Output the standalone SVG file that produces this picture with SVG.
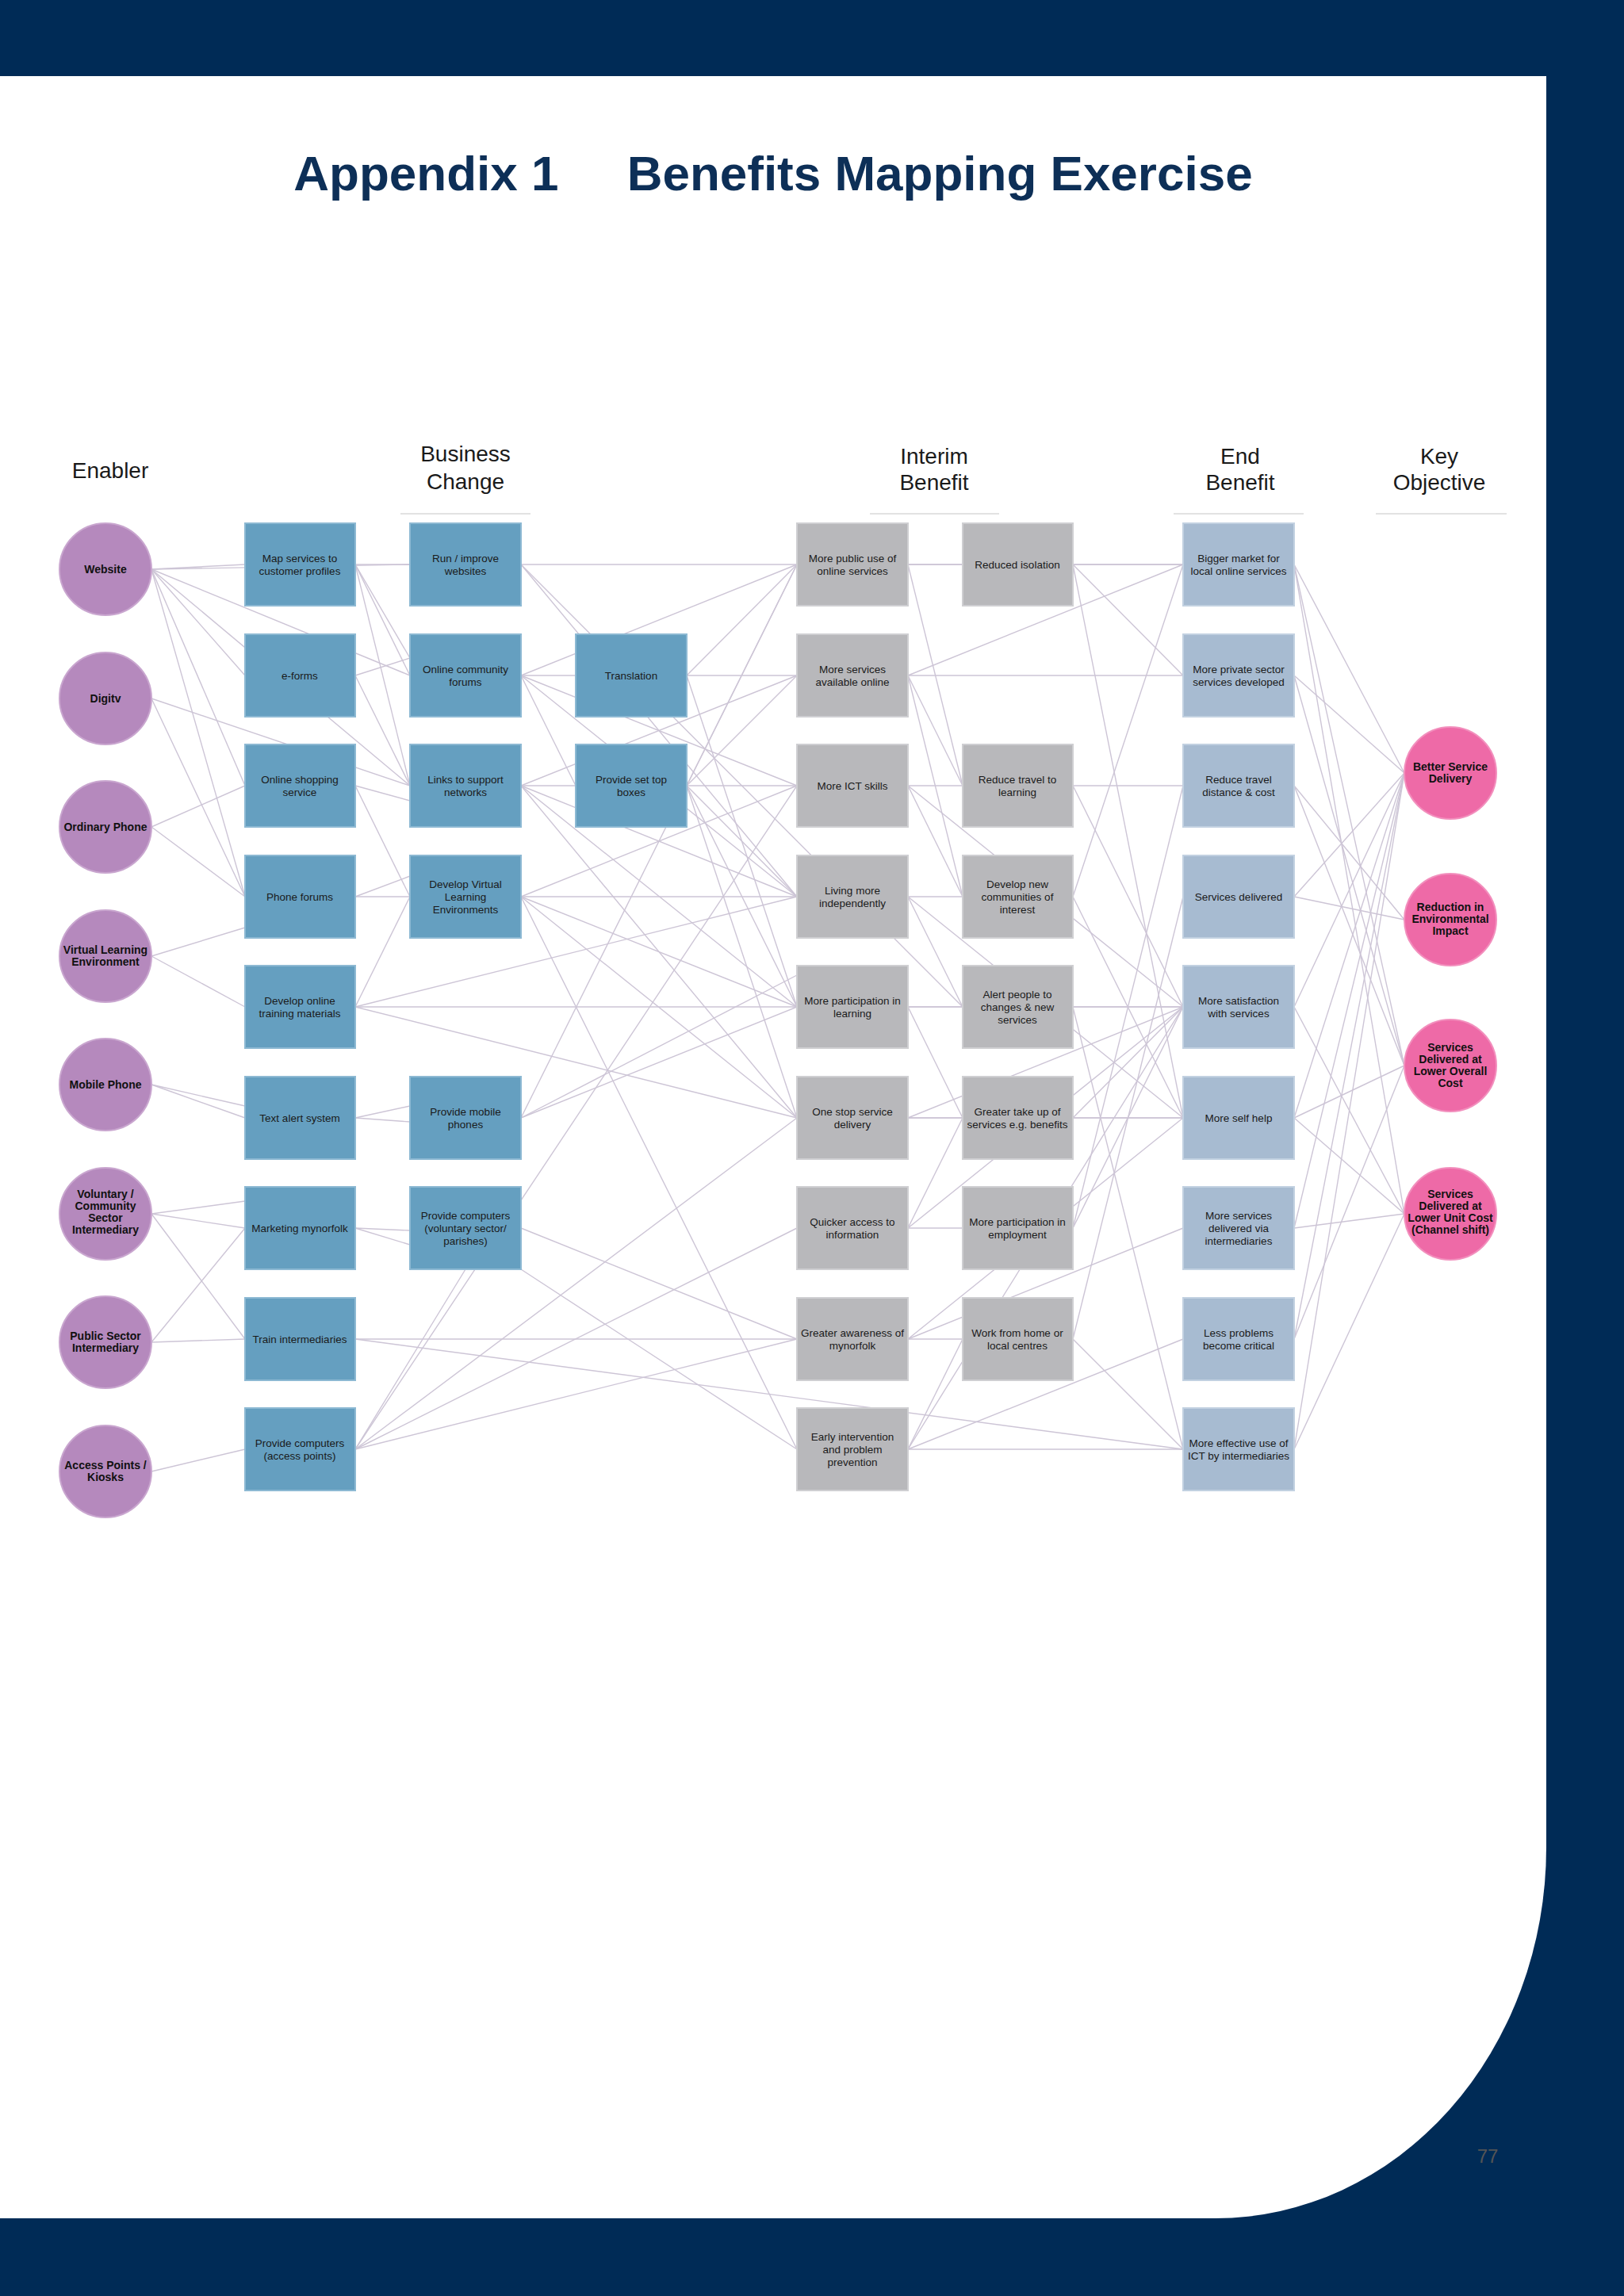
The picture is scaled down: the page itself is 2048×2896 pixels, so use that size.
<svg xmlns="http://www.w3.org/2000/svg" width="2048" height="2896" viewBox="0 0 2048 2896">
<style>
.hdr{font-family:"Liberation Sans",Arial,sans-serif;font-size:28px;fill:#1a1a1a;text-anchor:middle}
.t{font-family:"Liberation Sans",Arial,sans-serif;font-size:13.5px;fill:#1a1a1a;text-anchor:middle}
.tb{font-family:"Liberation Sans",Arial,sans-serif;font-size:14px;font-weight:bold;fill:#111;text-anchor:middle}
.en{fill:#b589bd;stroke:#c9a6cf;stroke-width:2}
.ko{fill:#ee6aa7;stroke:#f28fbd;stroke-width:2}
.bc{fill:#659fc0;stroke:#8db9d3;stroke-width:2}
.ib{fill:#b8b8bb;stroke:#cfcfd2;stroke-width:2}
.eb{fill:#a7bbd1;stroke:#c2d1e1;stroke-width:2}
#connectors line{stroke:#cdc5d6;stroke-width:1.4}
.ul{stroke:#e2e2e2;stroke-width:2}
</style>
<rect x="0" y="0" width="2048" height="2896" fill="#002b56"/>
<path d="M0 96 H1950 V2330 A417 468 0 0 1 1533 2798 H0 Z" fill="#ffffff"/>
<text x="975" y="240" font-family="Liberation Sans,Arial,sans-serif" font-size="62" font-weight="bold" fill="#0d2f57" text-anchor="middle" xml:space="preserve">Appendix 1     Benefits Mapping Exercise</text>
<text class="hdr" x="139" y="603">Enabler</text>
<text class="hdr" x="587" y="582">Business</text><text class="hdr" x="587" y="617">Change</text>
<text class="hdr" x="1178" y="585">Interim</text><text class="hdr" x="1178" y="618">Benefit</text>
<text class="hdr" x="1564" y="585">End</text><text class="hdr" x="1564" y="618">Benefit</text>
<text class="hdr" x="1815" y="585">Key</text><text class="hdr" x="1815" y="618">Objective</text>
<line class="ul" x1="505" y1="648" x2="669" y2="648"/>
<line class="ul" x1="1097" y1="648" x2="1260" y2="648"/>
<line class="ul" x1="1480" y1="648" x2="1644" y2="648"/>
<line class="ul" x1="1735" y1="648" x2="1900" y2="648"/>
<text x="1876" y="2728" font-family="Liberation Sans,Arial,sans-serif" font-size="24" fill="#555" text-anchor="middle">77</text>
<g id="connectors">
<line x1="191" y1="718" x2="309" y2="712"/><line x1="191" y1="718" x2="517" y2="712"/><line x1="191" y1="718" x2="309" y2="852"/><line x1="191" y1="718" x2="517" y2="852"/><line x1="191" y1="718" x2="309" y2="991"/><line x1="191" y1="718" x2="517" y2="991"/><line x1="191" y1="718" x2="309" y2="1131"/>
<line x1="191" y1="881" x2="517" y2="991"/><line x1="191" y1="881" x2="309" y2="1131"/>
<line x1="191" y1="1043" x2="309" y2="991"/><line x1="191" y1="1043" x2="309" y2="1131"/>
<line x1="191" y1="1206" x2="309" y2="1170"/><line x1="191" y1="1206" x2="309" y2="1270"/>
<line x1="191" y1="1368" x2="309" y2="1395"/><line x1="191" y1="1368" x2="309" y2="1410"/>
<line x1="191" y1="1531" x2="309" y2="1515"/><line x1="191" y1="1531" x2="309" y2="1549"/><line x1="191" y1="1531" x2="309" y2="1689"/>
<line x1="191" y1="1693" x2="309" y2="1549"/><line x1="191" y1="1693" x2="309" y2="1689"/>
<line x1="191" y1="1856" x2="309" y2="1828"/>
<line x1="448" y1="712" x2="517" y2="712"/><line x1="448" y1="712" x2="517" y2="830"/><line x1="448" y1="712" x2="517" y2="852"/><line x1="448" y1="712" x2="517" y2="991"/>
<line x1="448" y1="852" x2="517" y2="830"/><line x1="448" y1="852" x2="517" y2="991"/>
<line x1="448" y1="991" x2="517" y2="1010"/><line x1="448" y1="991" x2="517" y2="1131"/>
<line x1="448" y1="1131" x2="517" y2="1131"/><line x1="448" y1="1131" x2="517" y2="1105"/>
<line x1="448" y1="1410" x2="517" y2="1415"/><line x1="448" y1="1410" x2="517" y2="1395"/>
<line x1="448" y1="1549" x2="517" y2="1552"/><line x1="448" y1="1549" x2="517" y2="1570"/>
<line x1="448" y1="1270" x2="1005" y2="1270"/><line x1="448" y1="1270" x2="1005" y2="1410"/><line x1="448" y1="1270" x2="517" y2="1131"/><line x1="448" y1="1270" x2="1005" y2="1131"/>
<line x1="448" y1="1689" x2="1005" y2="1689"/><line x1="448" y1="1689" x2="1492" y2="1828"/>
<line x1="448" y1="1828" x2="1005" y2="991"/><line x1="448" y1="1828" x2="1005" y2="1410"/><line x1="448" y1="1828" x2="1005" y2="1549"/><line x1="448" y1="1828" x2="1005" y2="1689"/><line x1="448" y1="1828" x2="587" y2="1601"/>
<line x1="657" y1="1549" x2="1005" y2="1689"/><line x1="657" y1="1601" x2="1005" y2="1828"/>
<line x1="657" y1="712" x2="1005" y2="712"/><line x1="657" y1="712" x2="1005" y2="1131"/><line x1="657" y1="712" x2="1214" y2="1270"/>
<line x1="657" y1="852" x2="726" y2="852"/><line x1="657" y1="852" x2="726" y2="991"/><line x1="657" y1="852" x2="1005" y2="712"/><line x1="657" y1="852" x2="1005" y2="991"/><line x1="657" y1="852" x2="1005" y2="1131"/>
<line x1="657" y1="991" x2="726" y2="991"/><line x1="657" y1="991" x2="1005" y2="852"/><line x1="657" y1="991" x2="1005" y2="1131"/><line x1="657" y1="991" x2="1005" y2="1270"/><line x1="657" y1="991" x2="1005" y2="1410"/>
<line x1="657" y1="1131" x2="1005" y2="991"/><line x1="657" y1="1131" x2="1005" y2="1131"/><line x1="657" y1="1131" x2="1005" y2="1270"/><line x1="657" y1="1131" x2="1005" y2="1410"/><line x1="657" y1="1131" x2="1005" y2="1828"/>
<line x1="657" y1="1410" x2="1005" y2="1270"/><line x1="657" y1="1410" x2="1005" y2="1230"/><line x1="657" y1="1410" x2="1005" y2="712"/>
<line x1="866" y1="852" x2="1005" y2="712"/><line x1="866" y1="852" x2="1005" y2="852"/><line x1="866" y1="852" x2="1005" y2="1270"/>
<line x1="866" y1="991" x2="1005" y2="712"/><line x1="866" y1="991" x2="1005" y2="852"/><line x1="866" y1="991" x2="1005" y2="991"/><line x1="866" y1="991" x2="1005" y2="1131"/><line x1="866" y1="991" x2="1005" y2="1270"/><line x1="866" y1="991" x2="1005" y2="1410"/>
<line x1="1145" y1="712" x2="1214" y2="712"/><line x1="1145" y1="712" x2="1492" y2="712"/><line x1="1145" y1="712" x2="1214" y2="991"/>
<line x1="1145" y1="852" x2="1492" y2="852"/><line x1="1145" y1="852" x2="1492" y2="712"/><line x1="1145" y1="852" x2="1214" y2="991"/><line x1="1145" y1="852" x2="1214" y2="1131"/>
<line x1="1145" y1="991" x2="1214" y2="991"/><line x1="1145" y1="991" x2="1214" y2="1131"/><line x1="1145" y1="991" x2="1492" y2="1270"/>
<line x1="1145" y1="1131" x2="1214" y2="1131"/><line x1="1145" y1="1131" x2="1214" y2="1270"/><line x1="1145" y1="1131" x2="1492" y2="1410"/>
<line x1="1145" y1="1270" x2="1214" y2="1270"/><line x1="1145" y1="1270" x2="1214" y2="1410"/><line x1="1145" y1="1270" x2="1492" y2="1270"/>
<line x1="1145" y1="1410" x2="1214" y2="1410"/><line x1="1145" y1="1410" x2="1492" y2="1270"/><line x1="1145" y1="1410" x2="1492" y2="1410"/>
<line x1="1145" y1="1549" x2="1214" y2="1549"/><line x1="1145" y1="1549" x2="1214" y2="1410"/><line x1="1145" y1="1549" x2="1492" y2="1270"/>
<line x1="1145" y1="1689" x2="1214" y2="1689"/><line x1="1145" y1="1689" x2="1492" y2="1410"/><line x1="1145" y1="1689" x2="1492" y2="1549"/>
<line x1="1145" y1="1828" x2="1492" y2="1828"/><line x1="1145" y1="1828" x2="1214" y2="1689"/><line x1="1145" y1="1828" x2="1492" y2="1270"/><line x1="1145" y1="1828" x2="1492" y2="1689"/>
<line x1="1353" y1="712" x2="1492" y2="712"/><line x1="1353" y1="712" x2="1492" y2="852"/><line x1="1353" y1="712" x2="1492" y2="1410"/>
<line x1="1353" y1="991" x2="1492" y2="991"/><line x1="1353" y1="991" x2="1492" y2="1270"/>
<line x1="1353" y1="1131" x2="1492" y2="712"/><line x1="1353" y1="1131" x2="1492" y2="1410"/>
<line x1="1353" y1="1270" x2="1492" y2="1270"/><line x1="1353" y1="1270" x2="1492" y2="1828"/>
<line x1="1353" y1="1410" x2="1492" y2="1270"/><line x1="1353" y1="1410" x2="1492" y2="1410"/>
<line x1="1353" y1="1549" x2="1492" y2="1270"/><line x1="1353" y1="1549" x2="1492" y2="991"/>
<line x1="1353" y1="1689" x2="1492" y2="1131"/><line x1="1353" y1="1689" x2="1492" y2="1828"/>
<line x1="1632" y1="712" x2="1771" y2="975"/><line x1="1632" y1="712" x2="1771" y2="1344"/><line x1="1632" y1="712" x2="1771" y2="1531"/>
<line x1="1632" y1="852" x2="1771" y2="975"/><line x1="1632" y1="852" x2="1771" y2="1344"/>
<line x1="1632" y1="991" x2="1771" y2="1160"/><line x1="1632" y1="991" x2="1771" y2="1344"/>
<line x1="1632" y1="1131" x2="1771" y2="975"/><line x1="1632" y1="1131" x2="1771" y2="1160"/>
<line x1="1632" y1="1270" x2="1771" y2="975"/><line x1="1632" y1="1270" x2="1771" y2="1531"/>
<line x1="1632" y1="1410" x2="1771" y2="975"/><line x1="1632" y1="1410" x2="1771" y2="1344"/><line x1="1632" y1="1410" x2="1771" y2="1531"/>
<line x1="1632" y1="1549" x2="1771" y2="975"/><line x1="1632" y1="1549" x2="1771" y2="1531"/>
<line x1="1632" y1="1689" x2="1771" y2="975"/><line x1="1632" y1="1689" x2="1771" y2="1344"/>
<line x1="1632" y1="1828" x2="1771" y2="975"/><line x1="1632" y1="1828" x2="1771" y2="1531"/>
</g>
<g id="enablers">
<g id="n-website"><circle class="en" cx="133" cy="718" r="58"/><text class="tb" x="133" y="723">Website</text></g>
<g id="n-digitv"><circle class="en" cx="133" cy="881" r="58"/><text class="tb" x="133" y="886">Digitv</text></g>
<g id="n-ordinary"><circle class="en" cx="133" cy="1043" r="58"/><text class="tb" x="133" y="1048">Ordinary Phone</text></g>
<g id="n-vle"><circle class="en" cx="133" cy="1206" r="58"/><text class="tb" x="133" y="1203">Virtual Learning</text><text class="tb" x="133" y="1218">Environment</text></g>
<g id="n-mobile"><circle class="en" cx="133" cy="1368" r="58"/><text class="tb" x="133" y="1373">Mobile Phone</text></g>
<g id="n-voluntary"><circle class="en" cx="133" cy="1531" r="58"/><text class="tb" x="133" y="1511">Voluntary /</text><text class="tb" x="133" y="1526">Community</text><text class="tb" x="133" y="1541">Sector</text><text class="tb" x="133" y="1556">Intermediary</text></g>
<g id="n-public"><circle class="en" cx="133" cy="1693" r="58"/><text class="tb" x="133" y="1690">Public Sector</text><text class="tb" x="133" y="1705">Intermediary</text></g>
<g id="n-access"><circle class="en" cx="133" cy="1856" r="58"/><text class="tb" x="133" y="1853">Access Points /</text><text class="tb" x="133" y="1868">Kiosks</text></g>
</g>
<g id="business">
<g id="b-map"><rect class="bc" x="309" y="660" width="139" height="104"/><text class="t" x="378" y="709">Map services to</text><text class="t" x="378" y="725">customer profiles</text></g>
<g id="b-eforms"><rect class="bc" x="309" y="800" width="139" height="104"/><text class="t" x="378" y="857">e-forms</text></g>
<g id="b-shop"><rect class="bc" x="309" y="939" width="139" height="104"/><text class="t" x="378" y="988">Online shopping</text><text class="t" x="378" y="1004">service</text></g>
<g id="b-phonef"><rect class="bc" x="309" y="1079" width="139" height="104"/><text class="t" x="378" y="1136">Phone forums</text></g>
<g id="b-train"><rect class="bc" x="309" y="1218" width="139" height="104"/><text class="t" x="378" y="1267">Develop online</text><text class="t" x="378" y="1283">training materials</text></g>
<g id="b-text"><rect class="bc" x="309" y="1358" width="139" height="104"/><text class="t" x="378" y="1415">Text alert system</text></g>
<g id="b-mark"><rect class="bc" x="309" y="1497" width="139" height="104"/><text class="t" x="378" y="1554">Marketing mynorfolk</text></g>
<g id="b-traini"><rect class="bc" x="309" y="1637" width="139" height="104"/><text class="t" x="378" y="1694">Train intermediaries</text></g>
<g id="b-pca"><rect class="bc" x="309" y="1776" width="139" height="104"/><text class="t" x="378" y="1825">Provide computers</text><text class="t" x="378" y="1841">(access points)</text></g>
<g id="b-run"><rect class="bc" x="517" y="660" width="140" height="104"/><text class="t" x="587" y="709">Run / improve</text><text class="t" x="587" y="725">websites</text></g>
<g id="b-forum"><rect class="bc" x="517" y="800" width="140" height="104"/><text class="t" x="587" y="849">Online community</text><text class="t" x="587" y="865">forums</text></g>
<g id="b-links"><rect class="bc" x="517" y="939" width="140" height="104"/><text class="t" x="587" y="988">Links to support</text><text class="t" x="587" y="1004">networks</text></g>
<g id="b-vle"><rect class="bc" x="517" y="1079" width="140" height="104"/><text class="t" x="587" y="1120">Develop Virtual</text><text class="t" x="587" y="1136">Learning</text><text class="t" x="587" y="1152">Environments</text></g>
<g id="b-mob"><rect class="bc" x="517" y="1358" width="140" height="104"/><text class="t" x="587" y="1407">Provide mobile</text><text class="t" x="587" y="1423">phones</text></g>
<g id="b-pcv"><rect class="bc" x="517" y="1497" width="140" height="104"/><text class="t" x="587" y="1538">Provide computers</text><text class="t" x="587" y="1554">(voluntary sector/</text><text class="t" x="587" y="1570">parishes)</text></g>
<g id="b-trans"><rect class="bc" x="726" y="800" width="140" height="104"/><text class="t" x="796" y="857">Translation</text></g>
<g id="b-stb"><rect class="bc" x="726" y="939" width="140" height="104"/><text class="t" x="796" y="988">Provide set top</text><text class="t" x="796" y="1004">boxes</text></g>
</g>
<g id="interim">
<g id="i-a0"><rect class="ib" x="1005" y="660" width="140" height="104"/><text class="t" x="1075" y="709">More public use of</text><text class="t" x="1075" y="725">online services</text></g>
<g id="i-a1"><rect class="ib" x="1005" y="800" width="140" height="104"/><text class="t" x="1075" y="849">More services</text><text class="t" x="1075" y="865">available online</text></g>
<g id="i-a2"><rect class="ib" x="1005" y="939" width="140" height="104"/><text class="t" x="1075" y="996">More ICT skills</text></g>
<g id="i-a3"><rect class="ib" x="1005" y="1079" width="140" height="104"/><text class="t" x="1075" y="1128">Living more</text><text class="t" x="1075" y="1144">independently</text></g>
<g id="i-a4"><rect class="ib" x="1005" y="1218" width="140" height="104"/><text class="t" x="1075" y="1267">More participation in</text><text class="t" x="1075" y="1283">learning</text></g>
<g id="i-a5"><rect class="ib" x="1005" y="1358" width="140" height="104"/><text class="t" x="1075" y="1407">One stop service</text><text class="t" x="1075" y="1423">delivery</text></g>
<g id="i-a6"><rect class="ib" x="1005" y="1497" width="140" height="104"/><text class="t" x="1075" y="1546">Quicker access to</text><text class="t" x="1075" y="1562">information</text></g>
<g id="i-a7"><rect class="ib" x="1005" y="1637" width="140" height="104"/><text class="t" x="1075" y="1686">Greater awareness of</text><text class="t" x="1075" y="1702">mynorfolk</text></g>
<g id="i-a8"><rect class="ib" x="1005" y="1776" width="140" height="104"/><text class="t" x="1075" y="1817">Early intervention</text><text class="t" x="1075" y="1833">and problem</text><text class="t" x="1075" y="1849">prevention</text></g>
<g id="i-b0"><rect class="ib" x="1214" y="660" width="139" height="104"/><text class="t" x="1283" y="717">Reduced isolation</text></g>
<g id="i-b2"><rect class="ib" x="1214" y="939" width="139" height="104"/><text class="t" x="1283" y="988">Reduce travel to</text><text class="t" x="1283" y="1004">learning</text></g>
<g id="i-b3"><rect class="ib" x="1214" y="1079" width="139" height="104"/><text class="t" x="1283" y="1120">Develop new</text><text class="t" x="1283" y="1136">communities of</text><text class="t" x="1283" y="1152">interest</text></g>
<g id="i-b4"><rect class="ib" x="1214" y="1218" width="139" height="104"/><text class="t" x="1283" y="1259">Alert people to</text><text class="t" x="1283" y="1275">changes &amp; new</text><text class="t" x="1283" y="1291">services</text></g>
<g id="i-b5"><rect class="ib" x="1214" y="1358" width="139" height="104"/><text class="t" x="1283" y="1407">Greater take up of</text><text class="t" x="1283" y="1423">services e.g. benefits</text></g>
<g id="i-b6"><rect class="ib" x="1214" y="1497" width="139" height="104"/><text class="t" x="1283" y="1546">More participation in</text><text class="t" x="1283" y="1562">employment</text></g>
<g id="i-b7"><rect class="ib" x="1214" y="1637" width="139" height="104"/><text class="t" x="1283" y="1686">Work from home or</text><text class="t" x="1283" y="1702">local centres</text></g>
</g>
<g id="end">
<g id="e0"><rect class="eb" x="1492" y="660" width="140" height="104"/><text class="t" x="1562" y="709">Bigger market for</text><text class="t" x="1562" y="725">local online services</text></g>
<g id="e1"><rect class="eb" x="1492" y="800" width="140" height="104"/><text class="t" x="1562" y="849">More private sector</text><text class="t" x="1562" y="865">services developed</text></g>
<g id="e2"><rect class="eb" x="1492" y="939" width="140" height="104"/><text class="t" x="1562" y="988">Reduce travel</text><text class="t" x="1562" y="1004">distance &amp; cost</text></g>
<g id="e3"><rect class="eb" x="1492" y="1079" width="140" height="104"/><text class="t" x="1562" y="1136">Services delivered</text></g>
<g id="e4"><rect class="eb" x="1492" y="1218" width="140" height="104"/><text class="t" x="1562" y="1267">More satisfaction</text><text class="t" x="1562" y="1283">with services</text></g>
<g id="e5"><rect class="eb" x="1492" y="1358" width="140" height="104"/><text class="t" x="1562" y="1415">More self help</text></g>
<g id="e6"><rect class="eb" x="1492" y="1497" width="140" height="104"/><text class="t" x="1562" y="1538">More services</text><text class="t" x="1562" y="1554">delivered via</text><text class="t" x="1562" y="1570">intermediaries</text></g>
<g id="e7"><rect class="eb" x="1492" y="1637" width="140" height="104"/><text class="t" x="1562" y="1686">Less problems</text><text class="t" x="1562" y="1702">become critical</text></g>
<g id="e8"><rect class="eb" x="1492" y="1776" width="140" height="104"/><text class="t" x="1562" y="1825">More effective use of</text><text class="t" x="1562" y="1841">ICT by intermediaries</text></g>
</g>
<g id="key">
<g id="k0"><circle class="ko" cx="1829" cy="975" r="58"/><text class="tb" x="1829" y="972">Better Service</text><text class="tb" x="1829" y="987">Delivery</text></g>
<g id="k1"><circle class="ko" cx="1829" cy="1160" r="58"/><text class="tb" x="1829" y="1149">Reduction in</text><text class="tb" x="1829" y="1164">Environmental</text><text class="tb" x="1829" y="1179">Impact</text></g>
<g id="k2"><circle class="ko" cx="1829" cy="1344" r="58"/><text class="tb" x="1829" y="1326">Services</text><text class="tb" x="1829" y="1341">Delivered at</text><text class="tb" x="1829" y="1356">Lower Overall</text><text class="tb" x="1829" y="1371">Cost</text></g>
<g id="k3"><circle class="ko" cx="1829" cy="1531" r="58"/><text class="tb" x="1829" y="1511">Services</text><text class="tb" x="1829" y="1526">Delivered at</text><text class="tb" x="1829" y="1541">Lower Unit Cost</text><text class="tb" x="1829" y="1556">(Channel shift)</text></g>
</g>
</svg>
